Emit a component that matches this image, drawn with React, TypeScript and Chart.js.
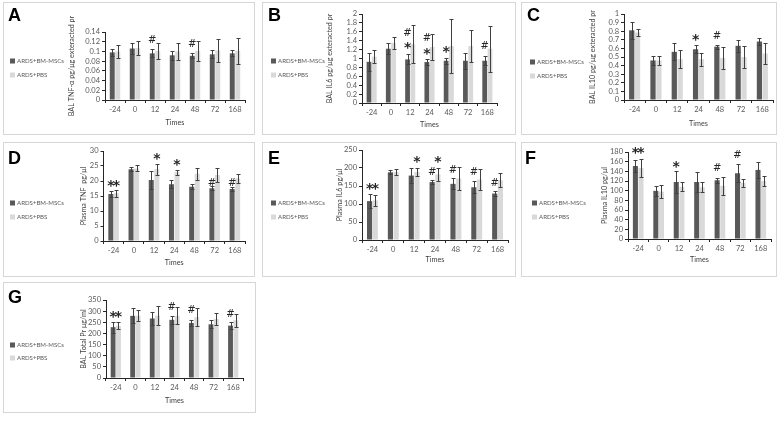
import React, { useEffect, useRef } from 'react';
import { Chart, registerables } from 'chart.js';

Chart.register(...registerables);

// ---------- data ----------
const categories = ['-24', '0', '12', '24', '48', '72', '168'];
const seriesNames = ['ARDS+BM-MSCs', 'ARDS+PBS'];

type Mark = { i: number; s: number; t: string; v: number };

// A: BAL TNF-α
const balTnfMsc = [0.098, 0.106, 0.096, 0.092, 0.091, 0.094, 0.096];
const balTnfMscSd = [0.008, 0.011, 0.008, 0.009, 0.005, 0.008, 0.006];
const balTnfPbs = [0.1, 0.107, 0.101, 0.1, 0.101, 0.102, 0.101];
const balTnfPbsSd = [0.014, 0.015, 0.017, 0.018, 0.021, 0.024, 0.026];
const balTnfMarks: Mark[] = [
  { i: 2, s: 0, t: '#', v: 0.124 },
  { i: 4, s: 0, t: '#', v: 0.1175 },
];

// B: BAL IL6
const balIl6Msc = [0.925, 1.22, 0.98, 0.92, 0.95, 0.95, 0.95];
const balIl6MscSd = [0.2, 0.12, 0.11, 0.06, 0.07, 0.18, 0.1];
const balIl6Pbs = [1.04, 1.35, 1.32, 1.26, 1.28, 1.28, 1.22];
const balIl6PbsSd = [0.15, 0.14, 0.43, 0.3, 0.6, 0.35, 0.52];
const balIl6Marks: Mark[] = [
  { i: 2, s: 0, t: '#', v: 1.58 },
  { i: 2, s: 0, t: '*', v: 1.32 },
  { i: 3, s: 0, t: '#', v: 1.47 },
  { i: 3, s: 0, t: '*', v: 1.2 },
  { i: 4, s: 0, t: '*', v: 1.23 },
  { i: 6, s: 0, t: '#', v: 1.3 },
];

// C: BAL IL10
const balIl10Msc = [0.81, 0.46, 0.56, 0.59, 0.62, 0.63, 0.68];
const balIl10MscSd = [0.1, 0.05, 0.1, 0.045, 0.025, 0.07, 0.045];
const balIl10Pbs = [0.785, 0.46, 0.475, 0.475, 0.49, 0.5, 0.54];
const balIl10PbsSd = [0.045, 0.05, 0.105, 0.075, 0.125, 0.125, 0.12];
const balIl10Marks: Mark[] = [
  { i: 3, s: 0, t: '*', v: 0.747 },
  { i: 4, s: 0, t: '#', v: 0.747 },
];

// D: Plasma TNF
const plTnfMsc = [15.7, 23.9, 20.3, 18.9, 18.1, 17.6, 17.3];
const plTnfMscSd = [0.9, 0.7, 2.9, 1.3, 0.9, 0.6, 0.7];
const plTnfPbs = [15.9, 24.2, 23.9, 22.9, 22.4, 22.0, 20.8];
const plTnfPbsSd = [1.1, 1.0, 1.8, 0.9, 2.0, 2.2, 1.6];
const plTnfMarks: Mark[] = [
  { i: 0, s: 0, t: '*', v: 19.8 },
  { i: 0, s: 1, t: '*', v: 19.8 },
  { i: 2, s: 1, t: '*', v: 28.7 },
  { i: 3, s: 1, t: '*', v: 26.8 },
  { i: 5, s: 0, t: '#', v: 19.6 },
  { i: 6, s: 0, t: '#', v: 19.6 },
];

// E: Plasma IL6
const plIl6Msc = [108, 188, 179, 161, 156, 146.5, 129];
const plIl6MscSd = [19, 5.5, 20, 5, 15, 17, 7];
const plIl6Pbs = [110, 188.5, 189, 182, 171, 168, 166];
const plIl6PbsSd = [15, 8, 10, 18, 32, 29, 20];
const plIl6Marks: Mark[] = [
  { i: 0, s: 0, t: '*', v: 152 },
  { i: 0, s: 1, t: '*', v: 152 },
  { i: 2, s: 1, t: '*', v: 227 },
  { i: 3, s: 1, t: '*', v: 228.5 },
  { i: 3, s: 0, t: '#', v: 192 },
  { i: 4, s: 0, t: '#', v: 197 },
  { i: 5, s: 0, t: '#', v: 191 },
  { i: 6, s: 0, t: '#', v: 161 },
];

// F: Plasma IL10
const plIl10Msc = [151, 99.6, 118, 118, 121.6, 136, 143];
const plIl10MscSd = [13, 11, 23, 21, 5.5, 18.5, 16];
const plIl10Pbs = [147, 98, 108, 107, 110, 116, 120];
const plIl10PbsSd = [18, 13, 9, 10, 18, 9, 10];
const plIl10Marks: Mark[] = [
  { i: 0, s: 0, t: '*', v: 187 },
  { i: 0, s: 1, t: '*', v: 187 },
  { i: 2, s: 0, t: '*', v: 158 },
  { i: 4, s: 0, t: '#', v: 148 },
  { i: 5, s: 0, t: '#', v: 174.5 },
];

// G: BAL Total protein
const balPrMsc = [228, 279, 267, 261, 247, 241, 235];
const balPrMscSd = [25, 34, 28, 18, 14, 18, 15];
const balPrPbs = [234, 279, 280, 279, 273, 265, 259];
const balPrPbsSd = [16, 25, 43, 38, 40, 28, 29];
const balPrMarks: Mark[] = [
  { i: 0, s: 0, t: '*', v: 290 },
  { i: 0, s: 1, t: '*', v: 290 },
  { i: 3, s: 0, t: '#', v: 320 },
  { i: 4, s: 0, t: '#', v: 310 },
  { i: 6, s: 0, t: '#', v: 288 },
];

// ---------- styling / layout ----------
const DARK = '#595959';
const LIGHT = '#d9d9d9';
const AXIS = '#262626';
const TICK_COLOR = '#595959';
const TITLE_COLOR = '#404040';
const TICK_FONT = { family: 'Lato', size: 7.5 };
const TITLE_FONT = { family: 'Lato', size: 7.2 };

type PanelCfg = {
  letter: string;
  title: string;
  msc: number[];
  mscSd: number[];
  pbs: number[];
  pbsSd: number[];
  marks: Mark[];
  yMax: number;
  yStep: number;
  box: { x: number; y: number; w: number; h: number };
  area: { l: number; r: number; t: number; b: number };
  titleX: number;
  timesY: number;
  legendX: number;
  legendY: number[];
  letterX: number;
  letterY: number;
};

const panels: PanelCfg[] = [
  {
    letter: 'A', title: 'BAL TNF-α pg/μg exteracted pr',
    msc: balTnfMsc, mscSd: balTnfMscSd, pbs: balTnfPbs, pbsSd: balTnfPbsSd, marks: balTnfMarks,
    yMax: 0.14, yStep: 0.02,
    box: { x: 3, y: 2, w: 252, h: 133 }, area: { l: 105, r: 245, t: 32, b: 100 },
    titleX: 72, timesY: 122.7, legendX: 10, legendY: [61, 75], letterX: 8, letterY: 21,
  },
  {
    letter: 'B', title: 'BAL IL6 pg/μg exteracted pr',
    msc: balIl6Msc, mscSd: balIl6MscSd, pbs: balIl6Pbs, pbsSd: balIl6PbsSd, marks: balIl6Marks,
    yMax: 2, yStep: 0.2,
    box: { x: 262, y: 2, w: 254, h: 133 }, area: { l: 362, r: 497, t: 14, b: 103 },
    titleX: 329.7, timesY: 125, legendX: 271, legendY: [61, 75], letterX: 268, letterY: 21,
  },
  {
    letter: 'C', title: 'BAL IL10 pg/μg exteracted pr',
    msc: balIl10Msc, mscSd: balIl10MscSd, pbs: balIl10Pbs, pbsSd: balIl10PbsSd, marks: balIl10Marks,
    yMax: 1, yStep: 0.1,
    box: { x: 521, y: 2, w: 256, h: 133 }, area: { l: 624, r: 773, t: 14, b: 100 },
    titleX: 592.3, timesY: 123.3, legendX: 530, legendY: [62, 76], letterX: 527, letterY: 21,
  },
  {
    letter: 'D', title: 'Plasma TNF  pg/μl',
    msc: plTnfMsc, mscSd: plTnfMscSd, pbs: plTnfPbs, pbsSd: plTnfPbsSd, marks: plTnfMarks,
    yMax: 30, yStep: 5,
    box: { x: 3, y: 142, w: 252, h: 135 }, area: { l: 103.5, r: 245, t: 151, b: 241 },
    titleX: 83.3, timesY: 262.7, legendX: 10, legendY: [203, 217], letterX: 8, letterY: 164,
  },
  {
    letter: 'E', title: 'Plasma IL6 pg/μl',
    msc: plIl6Msc, mscSd: plIl6MscSd, pbs: plIl6Pbs, pbsSd: plIl6PbsSd, marks: plIl6Marks,
    yMax: 250, yStep: 50,
    box: { x: 262, y: 142, w: 254, h: 135 }, area: { l: 362, r: 508, t: 150, b: 240 },
    titleX: 339.7, timesY: 260, legendX: 271, legendY: [203, 217], letterX: 268, letterY: 164,
  },
  {
    letter: 'F', title: 'Plasma IL10 pg/μl',
    msc: plIl10Msc, mscSd: plIl10MscSd, pbs: plIl10Pbs, pbsSd: plIl10PbsSd, marks: plIl10Marks,
    yMax: 180, yStep: 20,
    box: { x: 521, y: 142, w: 256, h: 135 }, area: { l: 628, r: 771, t: 152, b: 239 },
    titleX: 605, timesY: 259.7, legendX: 532, legendY: [203, 217], letterX: 525, letterY: 164,
  },
  {
    letter: 'G', title: 'BAL Total Pr μg/ml',
    msc: balPrMsc, mscSd: balPrMscSd, pbs: balPrPbs, pbsSd: balPrPbsSd, marks: balPrMarks,
    yMax: 350, yStep: 50,
    box: { x: 3, y: 282, w: 253, h: 131 }, area: { l: 106, r: 243, t: 300, b: 378 },
    titleX: 83.3, timesY: 401, legendX: 10, legendY: [345, 358], letterX: 8, letterY: 303,
  },
];

function Panel({ cfg }: { cfg: PanelCfg }) {
  const ref = useRef<HTMLCanvasElement>(null);
  const { box, area } = cfg;

  useEffect(() => {
    const canvas = ref.current;
    if (!canvas) return;
    const half = (TITLE_FONT.size * 1.2) / 2;
    const axisLeft = cfg.titleX - half;
    const padLeft = axisLeft - box.x;
    const yW = area.l - axisLeft;
    const xBottom = cfg.timesY + half;
    const xH = xBottom - area.b;
    const padBottom = box.y + box.h - xBottom;
    const padTop = area.t - box.y;
    const padRight = box.x + box.w - area.r;

    const deco = {
      id: 'deco',
      afterDatasetsDraw(chart: any) {
        const ctx = chart.ctx as CanvasRenderingContext2D;
        const ys = chart.scales.y;
        ctx.save();
        ctx.strokeStyle = '#404040';
        ctx.lineWidth = 1;
        chart.data.datasets.forEach((ds: any, di: number) => {
          const meta = chart.getDatasetMeta(di);
          meta.data.forEach((bar: any, j: number) => {
            const v = ds.data[j];
            const e = ds.errors[j];
            const x = Math.round(bar.x) + 0.5;
            const yt = Math.round(ys.getPixelForValue(v + e)) + 0.5;
            const yb = Math.round(ys.getPixelForValue(Math.max(0, v - e))) + 0.5;
            ctx.beginPath();
            ctx.moveTo(x, yt);
            ctx.lineTo(x, yb);
            ctx.moveTo(x - 2, yt);
            ctx.lineTo(x + 2, yt);
            ctx.moveTo(x - 2, yb);
            ctx.lineTo(x + 2, yb);
            ctx.stroke();
          });
        });
        ctx.restore();
      },
      afterDraw(chart: any) {
        const ctx = chart.ctx as CanvasRenderingContext2D;
        const ys = chart.scales.y;
        ctx.save();
        // panel letter
        ctx.fillStyle = '#000';
        ctx.font = 'bold 18px "Liberation Sans", Arial, sans-serif';
        ctx.textBaseline = 'alphabetic';
        ctx.textAlign = 'left';
        ctx.fillText(cfg.letter, cfg.letterX - box.x, cfg.letterY - box.y);
        // legend
        ctx.font = '6.1px Lato, sans-serif';
        ctx.textBaseline = 'middle';
        chart.data.datasets.forEach((ds: any, di: number) => {
          const lx = cfg.legendX - box.x;
          const ly = cfg.legendY[di] - box.y;
          ctx.fillStyle = ds.backgroundColor;
          ctx.fillRect(lx, ly - 2.5, 5, 5);
          ctx.fillStyle = '#595959';
          ctx.fillText(ds.label, lx + 7, ly + 0.5);
        });
        // significance marks
        ctx.fillStyle = '#262626';
        ctx.textAlign = 'center';
        ctx.textBaseline = 'alphabetic';
        const m0 = chart.getDatasetMeta(0);
        const m1 = chart.getDatasetMeta(1);
        cfg.marks.forEach((m) => {
          const x0 = m0.data[m.i].x;
          const x1 = m1.data[m.i].x;
          const x = x0 + (x1 - x0) * m.s;
          const y = ys.getPixelForValue(m.v);
          if (m.t === '*') {
            const size = 14;
            ctx.font = `bold ${size}px "DejaVu Sans", sans-serif`;
            ctx.fillText('*', x, y + 0.565 * size);
          } else {
            const size = 10;
            ctx.font = `${size}px "DejaVu Sans", sans-serif`;
            ctx.fillText(m.t, x, y + 0.365 * size);
          }
        });
        ctx.restore();
      },
    };

    const chart = new Chart(canvas, {
      type: 'bar',
      data: {
        labels: categories,
        datasets: [
          {
            label: seriesNames[0],
            data: cfg.msc,
            backgroundColor: DARK,
            errors: cfg.mscSd,
            categoryPercentage: 0.55,
            barPercentage: 0.9,
          } as any,
          {
            label: seriesNames[1],
            data: cfg.pbs,
            backgroundColor: LIGHT,
            errors: cfg.pbsSd,
            categoryPercentage: 0.55,
            barPercentage: 0.9,
          } as any,
        ],
      },
      options: {
        responsive: false,
        animation: false,
        devicePixelRatio: 1,
        layout: { padding: { left: padLeft, right: padRight, top: padTop, bottom: padBottom } },
        plugins: { legend: { display: false }, tooltip: { enabled: false }, title: { display: false } },
        scales: {
          x: {
            type: 'category',
            grid: { display: true, drawOnChartArea: false, drawTicks: true, tickLength: 3, color: AXIS, offset: true },
            border: { display: true, color: AXIS, width: 1 },
            ticks: { font: TICK_FONT, color: TICK_COLOR, padding: 2, maxRotation: 0, autoSkip: false },
            title: { display: true, text: 'Times', font: TITLE_FONT, color: TITLE_COLOR, padding: 0 },
            afterFit: (s: any) => { s.height = xH; },
          },
          y: {
            min: 0,
            max: cfg.yMax,
            grid: { display: true, drawOnChartArea: false, drawTicks: true, tickLength: 3, color: AXIS },
            border: { display: true, color: AXIS, width: 1 },
            ticks: {
              stepSize: cfg.yStep,
              autoSkip: false,
              font: TICK_FONT,
              color: TICK_COLOR,
              padding: 2,
              callback: (v: any) => String(Number(Number(v).toFixed(4))),
            },
            title: { display: true, text: cfg.title, font: TITLE_FONT, color: TITLE_COLOR, padding: 0 },
            afterFit: (s: any) => { s.width = yW; },
          },
        },
      } as any,
      plugins: [deco],
    });
    return () => chart.destroy();
  }, []);

  return (
    <>
      <div
        style={{
          position: 'absolute', left: box.x, top: box.y, width: box.w, height: box.h,
          boxSizing: 'border-box', border: '1px solid #d6d6d6',
        }}
      />
      <canvas
        ref={ref}
        width={box.w}
        height={box.h}
        style={{ position: 'absolute', left: box.x, top: box.y, width: box.w, height: box.h }}
      />
    </>
  );
}

export default function App() {
  return (
    <div style={{ position: 'absolute', left: 0, top: 0, width: 778, height: 421, background: '#fff', overflow: 'hidden' }}>
      {panels.map((p) => (
        <Panel key={p.letter} cfg={p} />
      ))}
    </div>
  );
}
